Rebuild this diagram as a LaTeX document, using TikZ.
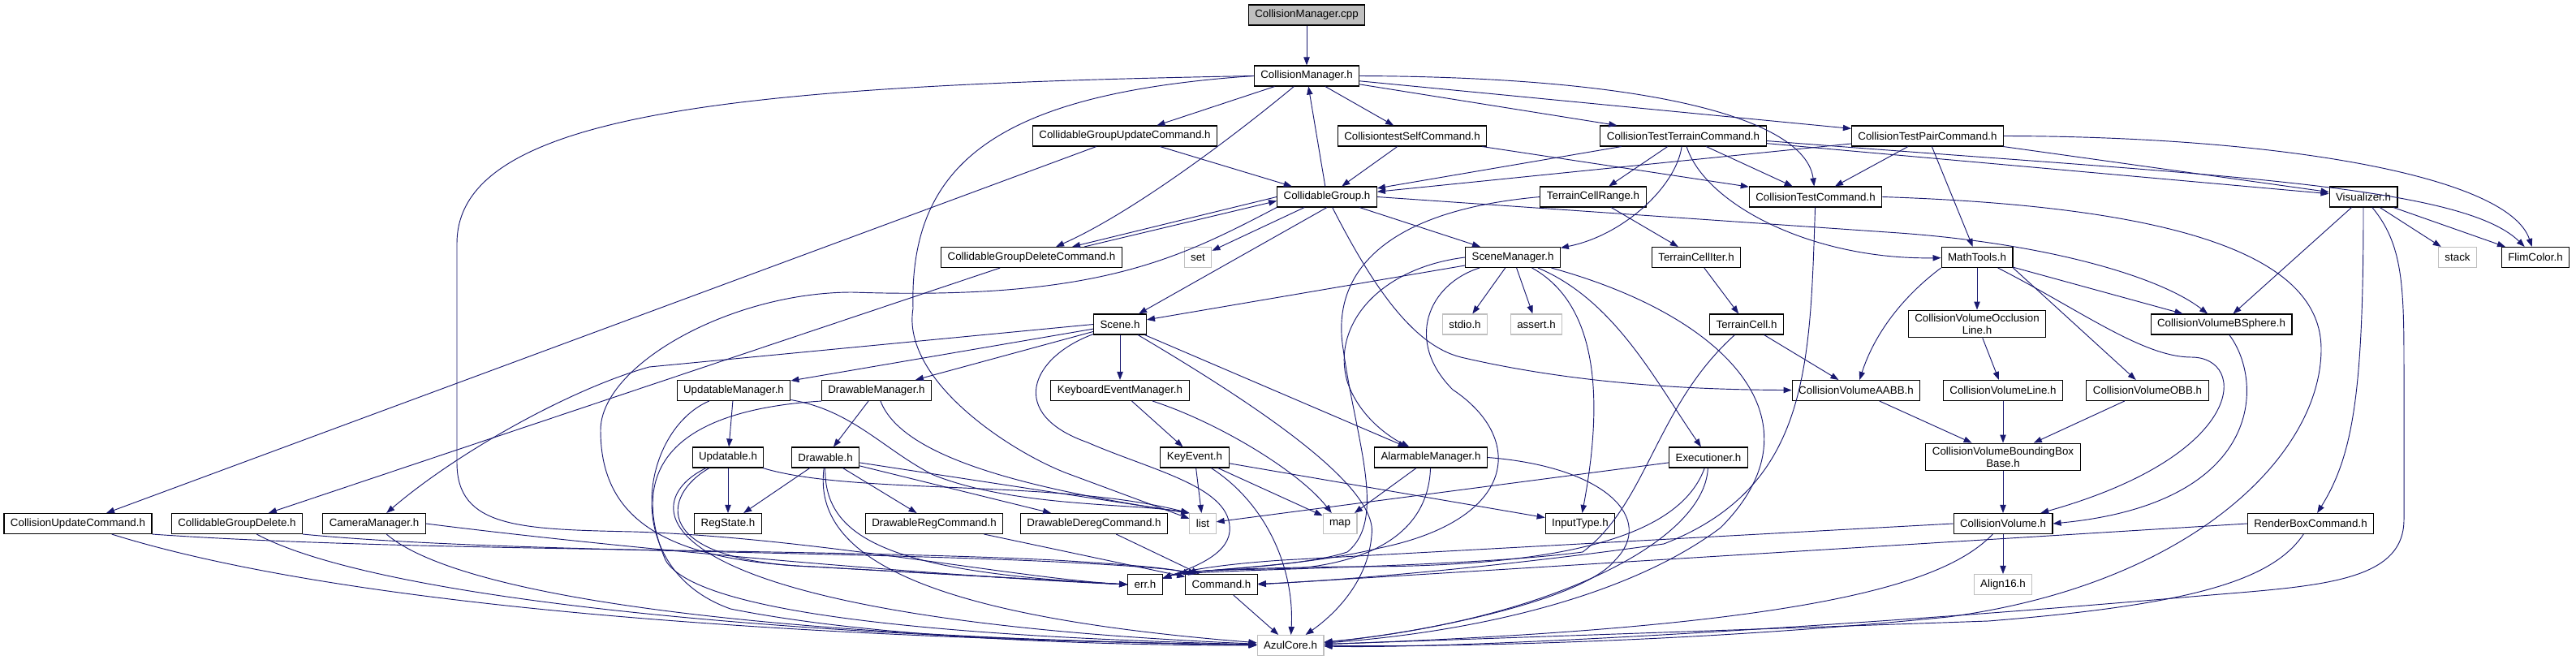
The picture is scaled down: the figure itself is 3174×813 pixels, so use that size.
\documentclass[tikz,border=0pt]{standalone}
\usepackage{fontspec}
\setmainfont{Liberation Sans}
\usepackage{tikz}
\usetikzlibrary{arrows.meta,calc}
\definecolor{dxazul}{RGB}{25,25,112}
\definecolor{dxgris}{RGB}{191,191,191}
\tikzset{
  cabecera/.style={rectangle,draw=black,line width=0.8pt,fill=white,align=center,
    minimum height=18.75pt,inner xsep=6pt,inner ysep=3.5pt,font=\fontsize{10}{11}\selectfont},
  ausente/.style={cabecera,draw=dxgris},
  raiz/.style={cabecera,fill=dxgris},
  incl/.style={-{Triangle[length=7.5pt,width=5.5pt]},dxazul,line width=0.7pt},
}
\begin{document}
\begin{tikzpicture}[x=0.75pt,y=-0.75pt]
      \useasboundingbox[fill=white] (0,0) rectangle (3174,813);
      \node[raiz] (cpp) at (1610,18.5) {CollisionManager.cpp};
      \node[cabecera] (cmh) at (1610,93.5) {CollisionManager.h};
      \node[cabecera] (cguc) at (1386,167.5) {CollidableGroupUpdateCommand.h};
      \node[cabecera] (cself) at (1740,167.5) {CollisiontestSelfCommand.h};
      \node[cabecera] (ctterrain) at (2074,167.5) {CollisionTestTerrainCommand.h};
      \node[cabecera] (ctpair) at (2375,167.5) {CollisionTestPairCommand.h};
      \node[cabecera] (cg) at (1635,242.5) {CollidableGroup.h};
      \node[cabecera] (tcrange) at (1963,242.5) {TerrainCellRange.h};
      \node[cabecera] (ctcmd) at (2237,242.5) {CollisionTestCommand.h};
      \node[cabecera] (visual) at (2912,242.5) {Visualizer.h};
      \node[cabecera] (cgdc) at (1271,317) {CollidableGroupDeleteCommand.h};
      \node[ausente] (nset) at (1476,317) {set};
      \node[cabecera] (scenemgr) at (1864,317) {SceneManager.h};
      \node[cabecera] (tciter) at (2090,317) {TerrainCellIter.h};
      \node[cabecera] (mathtools) at (2436,317) {MathTools.h};
      \node[ausente] (nstack) at (3028,317) {stack};
      \node[cabecera] (flim) at (3124,317) {FlimColor.h};
      \node[cabecera] (scene) at (1380,399.5) {Scene.h};
      \node[ausente] (nstdio) at (1805,399.5) {stdio.h};
      \node[ausente] (nassert) at (1893,399.5) {assert.h};
      \node[cabecera] (tcell) at (2152,399.5) {TerrainCell.h};
      \node[cabecera] (occl) at (2436,399) {CollisionVolumeOcclusion\\Line.h};
      \node[cabecera] (bsphere) at (2737,399.5) {CollisionVolumeBSphere.h};
      \node[cabecera] (updmgr) at (904,481) {UpdatableManager.h};
      \node[cabecera] (drwmgr) at (1080,481) {DrawableManager.h};
      \node[cabecera] (kbdmgr) at (1380,481) {KeyboardEventManager.h};
      \node[cabecera] (aabb) at (2287,481) {CollisionVolumeAABB.h};
      \node[cabecera] (cvline) at (2468,481) {CollisionVolumeLine.h};
      \node[cabecera] (obb) at (2646,481) {CollisionVolumeOBB.h};
      \node[cabecera] (updatable) at (897,563.5) {Updatable.h};
      \node[cabecera] (drawable) at (1017,563.5) {Drawable.h};
      \node[cabecera] (keyevent) at (1472,563.5) {KeyEvent.h};
      \node[cabecera] (alarm) at (1763,563.5) {AlarmableManager.h};
      \node[cabecera] (exec) at (2105,563.5) {Executioner.h};
      \node[cabecera] (bbbase) at (2468,563) {CollisionVolumeBoundingBox\\Base.h};
      \node[cabecera] (cuc) at (96,645) {CollisionUpdateCommand.h};
      \node[cabecera] (cgdel) at (292,645) {CollidableGroupDelete.h};
      \node[cabecera] (camera) at (461,645) {CameraManager.h};
      \node[cabecera] (regstate) at (897,645) {RegState.h};
      \node[cabecera] (drwreg) at (1151,645) {DrawableRegCommand.h};
      \node[cabecera] (drwdereg) at (1348,645) {DrawableDeregCommand.h};
      \node[ausente] (nlist) at (1482,645) {list};
      \node[ausente] (nmap) at (1651,645) {map};
      \node[cabecera] (inputtype) at (1947,645) {InputType.h};
      \node[cabecera] (cvolume) at (2468,645) {CollisionVolume.h};
      \node[cabecera] (renderbox) at (2847,645) {RenderBoxCommand.h};
      \node[cabecera] (err) at (1411,720) {err.h};
      \node[cabecera] (command) at (1505,720) {Command.h};
      \node[ausente] (nalign) at (2468,720) {Align16.h};
      \node[ausente] (azulcore) at (1590,795) {AzulCore.h};
      \draw[incl] (cpp) -- (cmh);
      \draw[incl] (cmh) -- (cguc);
      \draw[incl] (cmh) -- (cself);
      \draw[incl] (cmh) -- (ctterrain);
      \draw[incl] (cmh) -- (ctpair);
      \draw[incl] (cmh.east) .. controls (2050,95) and (2225,150) .. (ctcmd);
      \draw[incl] (cmh) .. controls (1530,160) and (1400,260) .. ($(cgdc.north)+(30,0)$);
      \draw[incl] (cmh.west) .. controls (900,105) and (563,140) .. (563,300) -- (563,570)
        .. controls (563,650) and (640,652) .. (780,655) .. controls (1000,662) and (1250,712) .. (err.west);
      \draw[incl] (cmh.west) .. controls (1230,115) and (1120,200) .. (1125,380)
        .. controls (1110,470) and (1250,560) .. (1320,585) -- (nlist);
      \draw[incl] (cguc) -- (cg);
      \draw[incl] (cguc) -- (cuc);
      \draw[incl] (cself) -- (cg);
      \draw[incl] (cself) -- (ctcmd);
      \draw[incl] (ctterrain) -- (cg);
      \draw[incl] (ctterrain) -- (tcrange);
      \draw[incl] (ctterrain) .. controls (2065,230) and (2000,290) .. (scenemgr);
      \draw[incl] (ctterrain) -- (ctcmd);
      \draw[incl] (ctterrain) .. controls (2100,250) and (2230,320) .. (mathtools);
      \draw[incl] (ctterrain) -- (visual);
      \draw[incl] ($(ctterrain.east)+(0,6)$) .. controls (2700,215) and (3030,225) .. (flim);
      \draw[incl] (ctpair) -- (cg);
      \draw[incl] (ctpair) -- (ctcmd);
      \draw[incl] (ctpair) -- (mathtools);
      \draw[incl] (ctpair) -- (visual);
      \draw[incl] (ctpair.east) .. controls (2800,168) and (3090,215) .. (flim);
      \draw[incl] (cg) -- (cmh);
      \draw[incl] (cg.west) -- ($(cgdc.north)+(50,0)$);
      \draw[incl] ($(cgdc.north)+(65,0)$) -- ($(cg.west)+(0,5)$);
      \draw[incl] (cg) -- (nset);
      \draw[incl] (cg.south) -- (scene);
      \draw[incl] (cg) -- (scenemgr);
      \draw[incl] (cg.east) -- (2340,287) .. controls (2520,300) and (2660,340) .. (bsphere);
      \draw[incl] (cg) .. controls (1690,350) and (1740,425) .. (1800,440)
        .. controls (1950,475) and (2100,480) .. (aabb);
      \draw[incl] (cg.south west) .. controls (1450,320) and (1350,370) .. (1050,360)
        .. controls (900,360) and (740,450) .. (740,530) .. controls (740,640) and (820,690) .. (1000,698) -- (err.west);
      \draw[incl] (cgdc) -- (cgdel);
      \draw[incl] (tcrange) -- (tciter);
      \draw[incl] (tcrange.west) .. controls (1700,260) and (1640,340) .. (1655,430)
        .. controls (1670,540) and (1710,640) .. (1660,680) .. controls (1600,700) and (1465,701) .. (err);
      \draw[incl] (tciter) -- (tcell);
      \draw[incl] (tcell) -- (aabb);
      \draw[incl] (tcell) .. controls (2040,500) and (2030,620) .. (1950,680) .. controls (1800,700) and (1465,701) .. (err);
      \draw[incl] (ctcmd) .. controls (2230,450) and (2230,600) .. (2050,670) .. controls (1800,705) and (1600,718) .. (command);
      \draw[incl] (ctcmd.east) .. controls (2700,255) and (2860,320) .. (2860,430)
        .. controls (2860,560) and (2700,720) .. (2400,760) .. controls (2100,790) and (1800,797) .. (azulcore);
      \draw[incl] (visual) -- (bsphere);
      \draw[incl] (visual) -- (nstack);
      \draw[incl] (visual) -- (flim);
      \draw[incl] (visual) .. controls (2912,480) and (2900,560) .. (renderbox);
      \draw[incl] (visual) .. controls (2960,300) and (2962,350) .. (2962,450) -- (2962,640)
        .. controls (2962,720) and (2850,722) .. (2700,735) .. controls (2300,770) and (1800,800) .. (azulcore);
      \draw[incl] (mathtools.south west) .. controls (2345,365) and (2310,410) .. (aabb);
      \draw[incl] (mathtools) -- (occl);
      \draw[incl] (mathtools.south east) -- (obb);
      \draw[incl] (mathtools) -- (bsphere);
      \draw[incl] (mathtools) .. controls (2560,380) and (2640,440) .. (2700,440)
        .. controls (2770,440) and (2770,560) .. (cvolume);
      \draw[incl] (bsphere) .. controls (2790,470) and (2790,620) .. (cvolume.east);
      \draw[incl] (occl) -- (cvline);
      \draw[incl] (cvline) -- (bbbase);
      \draw[incl] (obb) -- (bbbase);
      \draw[incl] (aabb) -- (bbbase);
      \draw[incl] (bbbase) -- (cvolume);
      \draw[incl] (cvolume) -- (nalign);
      \draw[incl] (cvolume.west) -- (1580,690) .. controls (1520,694) and (1465,701) .. (err);
      \draw[incl] (cvolume) .. controls (2400,715) and (2250,772) .. (azulcore);
      \draw[incl] (renderbox.west) -- (command.east);
      \draw[incl] (renderbox) .. controls (2800,715) and (2700,745) .. (2450,765) -- (azulcore);
      \draw[incl] (scenemgr) -- (scene);
      \draw[incl] (scenemgr.west) .. controls (1700,330) and (1640,400) .. (1660,470)
        .. controls (1675,515) and (1715,540) .. (alarm);
      \draw[incl] (scenemgr) -- (nstdio);
      \draw[incl] (scenemgr) -- (nassert);
      \draw[incl] (scenemgr) .. controls (1960,370) and (1980,470) .. (inputtype);
      \draw[incl] (scenemgr) .. controls (1990,370) and (2040,470) .. (exec);
      \draw[incl] (scenemgr) .. controls (2130,390) and (2250,520) .. (2120,650)
        .. controls (2000,740) and (1800,780) .. (azulcore);
      \draw[incl] (scenemgr) .. controls (1760,350) and (1730,420) .. (1790,480)
        .. controls (1880,540) and (1870,640) .. (1700,675) .. controls (1600,700) and (1465,701) .. (err);
      \draw[incl] (scene) -- (updmgr);
      \draw[incl] (scene) -- (drwmgr);
      \draw[incl] (scene) -- (kbdmgr);
      \draw[incl] (scene) -- (alarm);
      \draw[incl] (scene.west) -- (800,452) .. controls (700,480) and (560,560) .. (camera);
      \draw[incl] (scene) .. controls (1270,440) and (1240,510) .. (1340,545)
        .. controls (1420,580) and (1520,600) .. (1515,655) .. controls (1512,685) and (1465,701) .. (err);
      \draw[incl] (scene) .. controls (1550,500) and (1700,600) .. (1690,660)
        .. controls (1685,720) and (1640,760) .. (azulcore);
      \draw[incl] (updmgr) -- (updatable);
      \draw[incl] (updmgr) .. controls (1050,505) and (1090,555) .. (1150,585)
        .. controls (1250,625) and (1400,620) .. (nlist.north west);
      \draw[incl] (updmgr) .. controls (790,530) and (760,700) .. (900,750)
        .. controls (1100,790) and (1400,795) .. (azulcore);
      \draw[incl] (drwmgr) -- (drawable);
      \draw[incl] (drwmgr) .. controls (1110,560) and (1250,600) .. (nlist.north west);
      \draw[incl] (drwmgr.south west) .. controls (840,505) and (770,570) .. (820,690)
        .. controls (860,760) and (1200,785) .. (azulcore);
      \draw[incl] (kbdmgr) -- (keyevent);
      \draw[incl] (kbdmgr) .. controls (1500,520) and (1600,580) .. (nmap);
      \draw[incl] (keyevent) -- (nlist);
      \draw[incl] (keyevent) -- (nmap);
      \draw[incl] (keyevent) -- (inputtype);
      \draw[incl] (keyevent) .. controls (1560,620) and (1595,700) .. (azulcore);
      \draw[incl] (updatable) -- (regstate);
      \draw[incl] (updatable) .. controls (1050,610) and (1300,590) .. (nlist.north west);
      \draw[incl] (updatable) .. controls (815,610) and (800,690) .. (1000,698) -- (err.west);
      \draw[incl] (updatable) .. controls (780,620) and (780,760) .. (azulcore);
      \draw[incl] (drawable) -- (regstate);
      \draw[incl] (drawable) -- (drwreg);
      \draw[incl] (drawable) -- (drwdereg);
      \draw[incl] (drawable) -- (nlist.north west);
      \draw[incl] (drawable) .. controls (1015,665) and (1100,705) .. (err.west);
      \draw[incl] (drawable) .. controls (1000,690) and (1150,760) .. (azulcore);
      \draw[incl] (drwreg) -- (command);
      \draw[incl] (drwdereg) -- (command);
      \draw[incl] (alarm) -- (nmap);
      \draw[incl] (alarm) .. controls (1760,650) and (1700,690) .. (1600,700) .. controls (1540,702) and (1465,701) .. (err);
      \draw[incl] (alarm.east) .. controls (1980,575) and (2040,640) .. (1990,690)
        .. controls (1950,740) and (1750,780) .. (azulcore);
      \draw[incl] (exec) -- (nlist);
      \draw[incl] (exec) .. controls (2070,660) and (1930,700) .. (1650,698) .. controls (1560,700) and (1465,701) .. (err);
      \draw[incl] (exec) .. controls (2100,670) and (1900,765) .. (azulcore);
      \draw[incl] (command) -- (azulcore);
      \draw[incl] (cuc.south east) .. controls (500,680) and (1000,675) .. (1300,690)
        .. controls (1400,696) and (1440,700) .. ($(command.north west)+(8,0)$);
      \draw[incl] (cuc) .. controls (400,740) and (900,785) .. (azulcore);
      \draw[incl] (cgdel.south east) .. controls (600,680) and (1000,678) .. (1300,692)
        .. controls (1400,697) and (1445,701) .. ($(command.north west)+(14,0)$);
      \draw[incl] (cgdel) .. controls (450,730) and (900,785) .. (azulcore);
      \draw[incl] (camera.east) .. controls (800,680) and (1200,712) .. (err.west);
      \draw[incl] (camera) .. controls (560,730) and (900,785) .. (azulcore);
    \end{tikzpicture}
\end{document}
